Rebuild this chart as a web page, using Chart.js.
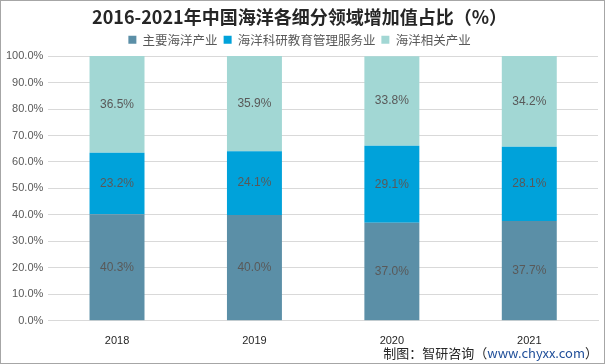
<!DOCTYPE html>
<html lang="zh">
<head>
  <meta charset="UTF-8">
  <title>2016-2021年中国海洋各细分领域增加值占比</title>
  <script src="https://cdn.jsdelivr.net/npm/chart.js"></script>
  <style>
    html, body { margin: 0; padding: 0; background: #fff; }
    #wrap { position: relative; width: 605px; height: 364px; box-sizing: border-box; border: 1px solid #a6a6a6; }
  </style>
</head>
<body>
  <div id="wrap"><canvas id="chart"></canvas></div>

  <script>
    const years = ['2018', '2019', '2020', '2021'];
    const mainIndustry = [40.3, 40.0, 37.0, 37.7];
    const researchMgmt = [23.2, 24.1, 29.1, 28.1];
    const relatedIndustry = [36.5, 35.9, 33.8, 34.2];
    const seriesNames = ['主要海洋产业', '海洋科研教育管理服务业', '海洋相关产业'];

    const font = '"Microsoft YaHei", "Noto Sans CJK SC", sans-serif';
    const numFont = '"Liberation Sans", "DejaVu Sans", sans-serif';

    // values written in the middle of each segment
    const segmentLabels = {
      id: 'segmentLabels',
      afterDatasetsDraw(chart) {
        const ctx = chart.ctx;
        ctx.save();
        ctx.font = '12px ' + numFont;
        ctx.fillStyle = '#595959';
        ctx.textAlign = 'center';
        ctx.textBaseline = 'middle';
        chart.data.datasets.forEach((ds, i) => {
          chart.getDatasetMeta(i).data.forEach((bar, j) => {
            const mid = (bar.y + bar.base) / 2;
            ctx.fillText(ds.data[j].toFixed(1) + '%', bar.x, mid);
          });
        });
        ctx.restore();
      }
    };

    // source note at the bottom right
    const sourceNote = {
      id: 'sourceNote',
      afterDraw(chart) {
        const ctx = chart.ctx;
        ctx.save();
        ctx.font = '13px ' + font;
        ctx.textBaseline = 'middle';
        const a = '制图：智研咨询（';
        const b = 'www.chyxx.com';
        const c = '）';
        const w = ctx.measureText(a).width + ctx.measureText(b).width + ctx.measureText(c).width;
        let x = 597 - w;
        const y = 352;
        ctx.fillStyle = '#262626';
        ctx.fillText(a, x, y); x += ctx.measureText(a).width;
        ctx.fillStyle = '#1f4e99';
        ctx.fillText(b, x, y); x += ctx.measureText(b).width;
        ctx.fillStyle = '#262626';
        ctx.fillText(c, x, y);
        ctx.restore();
      }
    };

    new Chart(document.getElementById('chart'), {
      type: 'bar',
      data: {
        labels: years,
        datasets: [
          { label: seriesNames[0], data: mainIndustry, backgroundColor: '#5b8fa7' },
          { label: seriesNames[1], data: researchMgmt, backgroundColor: '#00a2da' },
          { label: seriesNames[2], data: relatedIndustry, backgroundColor: '#a2d7d4' }
        ]
      },
      options: {
        responsive: true,
        maintainAspectRatio: false,
        animation: false,
        layout: { padding: { left: 0, right: 6, top: 5, bottom: 9 } },
        datasets: { bar: { categoryPercentage: 1, barPercentage: 0.4 } },
        plugins: {
          title: {
            display: true,
            text: '2016-2021年中国海洋各细分领域增加值占比（%）',
            color: '#262626',
            font: { family: font, size: 18, weight: 'bold' },
            padding: { top: 0, bottom: 0 }
          },
          legend: {
            labels: {
              boxWidth: 8, boxHeight: 8, padding: 6,
              color: '#595959',
              font: { family: font, size: 12.5 }
            }
          },
          tooltip: { enabled: false }
        },
        scales: {
          x: {
            stacked: true,
            grid: { display: false },
            border: { color: '#d9d9d9' },
            ticks: { color: '#262626', padding: 6, font: { family: numFont, size: 11 } }
          },
          y: {
            stacked: true,
            min: 0, max: 100,
            ticks: {
              stepSize: 10,
              color: '#595959',
              padding: 5,
              font: { family: numFont, size: 11 },
              callback: v => v.toFixed(1) + '%'
            },
            grid: { color: '#d9d9d9', drawTicks: false },
            border: { display: false }
          }
        }
      },
      plugins: [segmentLabels, sourceNote]
    });
  </script>
</body>
</html>
